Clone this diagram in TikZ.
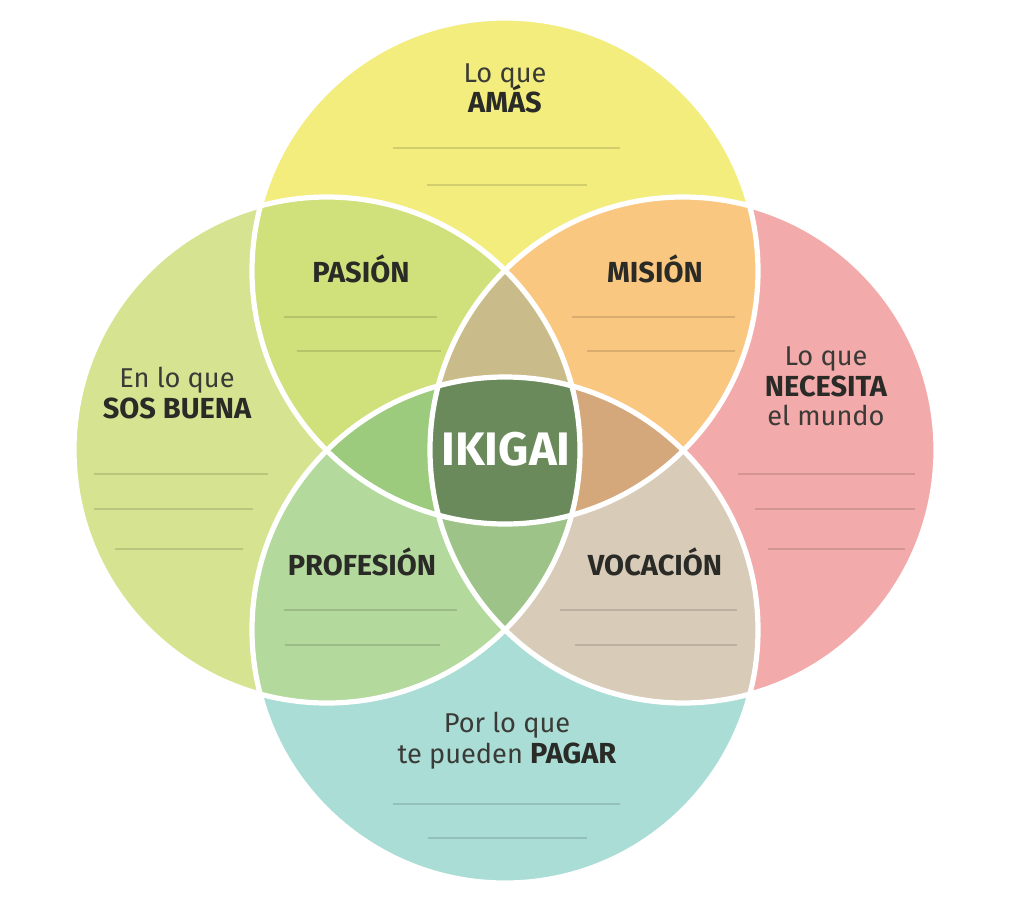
\documentclass[tikz,border=0pt]{standalone}
\usepackage{fontspec}
\setmainfont{Fira Sans}
\definecolor{cTop}{HTML}{F3ED7E}
\definecolor{cLeft}{HTML}{D6E391}
\definecolor{cRight}{HTML}{F3AAAA}
\definecolor{cBot}{HTML}{A9DDD6}
\definecolor{cPas}{HTML}{D0E07A}
\definecolor{cMis}{HTML}{FAC780}
\definecolor{cPro}{HTML}{B3D99D}
\definecolor{cVoc}{HTML}{D8CBB8}
\definecolor{cTLR}{HTML}{C9BC8A}
\definecolor{cTLB}{HTML}{9DCB7D}
\definecolor{cTRB}{HTML}{D5A87C}
\definecolor{cLRB}{HTML}{9DC389}
\definecolor{cAll}{HTML}{6A8A5B}
\definecolor{txt}{HTML}{2A2A26}
\definecolor{txtl}{HTML}{3A3A36}
\begin{document}
\begin{tikzpicture}[x=0.5pt,y=-0.5pt,
  outline/.style={draw=white,line width=2.6pt},
  rule/.style={draw=black,draw opacity=0.13,line width=0.7pt},
  reg/.style={font=\fontsize{13.6}{15}\selectfont,text=txtl,anchor=base,inner sep=0pt},
  bld/.style={font=\fontsize{14.5}{16}\selectfont\bfseries,text=txt,anchor=base,inner sep=0pt},
  big/.style={font=\fontsize{23.5}{26}\selectfont\bfseries,text=white,anchor=base,inner sep=0pt}]
\useasboundingbox[fill=white] (0,0) rectangle (1024,896);
\coordinate (T) at (505,271);
\coordinate (B) at (505,630);
\coordinate (L) at (327,450);
\coordinate (R) at (683,450);
% single circles
\fill[cTop] (T) circle[radius=253];
\fill[cLeft] (L) circle[radius=253];
\fill[cRight] (R) circle[radius=253];
\fill[cBot] (B) circle[radius=253];
% pairs
\begin{scope}\clip (T) circle[radius=253]; \fill[cPas] (L) circle[radius=253];\end{scope}
\begin{scope}\clip (T) circle[radius=253]; \fill[cMis] (R) circle[radius=253];\end{scope}
\begin{scope}\clip (B) circle[radius=253]; \fill[cPro] (L) circle[radius=253];\end{scope}
\begin{scope}\clip (B) circle[radius=253]; \fill[cVoc] (R) circle[radius=253];\end{scope}
% triples
\begin{scope}\clip (T) circle[radius=253]; \clip (L) circle[radius=253]; \fill[cTLR] (R) circle[radius=253];\end{scope}
\begin{scope}\clip (T) circle[radius=253]; \clip (L) circle[radius=253]; \fill[cTLB] (B) circle[radius=253];\end{scope}
\begin{scope}\clip (T) circle[radius=253]; \clip (R) circle[radius=253]; \fill[cTRB] (B) circle[radius=253];\end{scope}
\begin{scope}\clip (L) circle[radius=253]; \clip (R) circle[radius=253]; \fill[cLRB] (B) circle[radius=253];\end{scope}
% all four
\begin{scope}\clip (T) circle[radius=253]; \clip (L) circle[radius=253]; \clip (R) circle[radius=253]; \fill[cAll] (B) circle[radius=253];\end{scope}
% outlines
\draw[outline] (T) circle[radius=253];
\draw[outline] (L) circle[radius=253];
\draw[outline] (R) circle[radius=253];
\draw[outline] (B) circle[radius=253];
% writing rules
\draw[rule] (393,148) -- (620,148);
\draw[rule] (427,185) -- (587,185);
\draw[rule] (94,474) -- (268,474);
\draw[rule] (94,509) -- (253,509);
\draw[rule] (115,549) -- (243,549);
\draw[rule] (738,474) -- (915,474);
\draw[rule] (755,509) -- (915,509);
\draw[rule] (768,549) -- (905,549);
\draw[rule] (393,804) -- (620,804);
\draw[rule] (428,838) -- (587,838);
\draw[rule] (284,317) -- (437,317);
\draw[rule] (297,351) -- (441,351);
\draw[rule] (572,317) -- (735,317);
\draw[rule] (587,351) -- (735,351);
\draw[rule] (284,610) -- (457,610);
\draw[rule] (285,645) -- (440,645);
\draw[rule] (560,610) -- (737,610);
\draw[rule] (575,645) -- (737,645);
% texts
\node[reg] (t1) at (505,82) {Lo que};
\node[bld] (t2) at (505,112) {AMÁS};
\node[reg] (l1) at (177,387) {En lo que};
\node[bld] (l2) at (177,418) {SOS BUENA};
\node[reg] (r1) at (826,365) {Lo que};
\node[bld] (r2) at (826,396) {NECESITA};
\node[reg] (r3) at (826,425) {el mundo};
\node[reg] (b1) at (507,732) {Por lo que};
\node[reg] (b2) at (507,763) {te pueden \fontsize{14.5}{16}\selectfont\textbf{\color{txt}PAGAR}};
\node[bld] (pas) at (361,282) {PASIÓN};
\node[bld] (mis) at (655,282) {MISIÓN};
\node[bld] (pro) at (362,575) {PROFESIÓN};
\node[bld] (voc) at (655,575) {VOCACIÓN};
\node[big] (iki) at (506,465) {IKIGAI};
\end{tikzpicture}
\end{document}
